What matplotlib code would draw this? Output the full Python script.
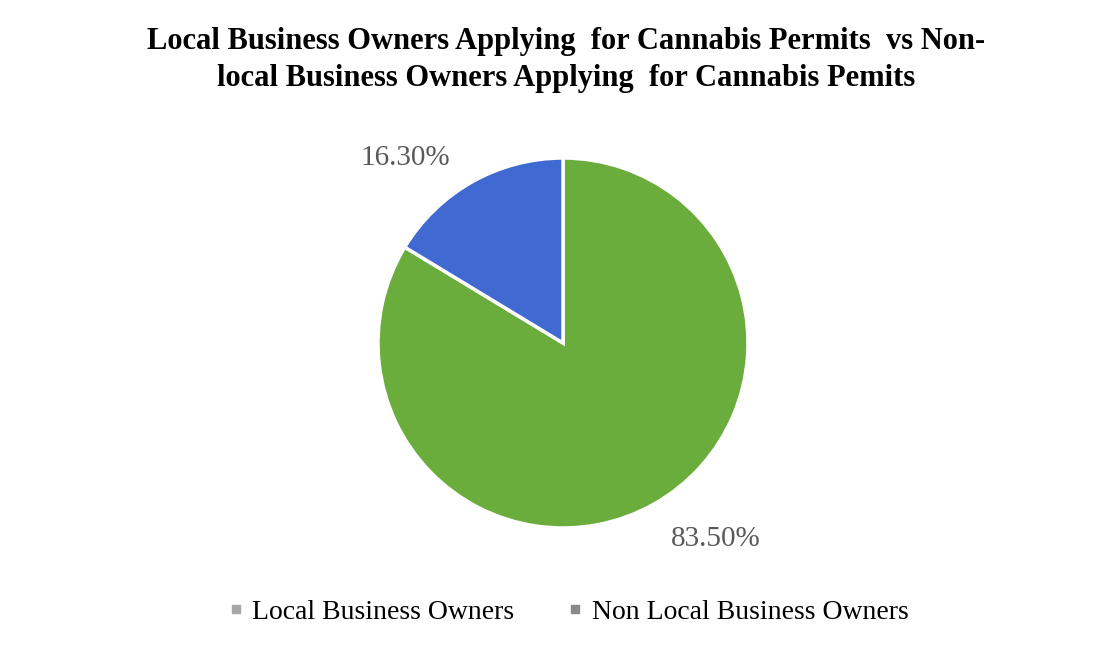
import numpy as np
import matplotlib.pyplot as plt
from matplotlib.lines import Line2D

categories = ['Local Business Owners', 'Non Local Business Owners']
shares = [83.5, 16.3]
colors = ['#6aad3d', '#4169d2']

title = ('Local Business Owners Applying  for Cannabis Permits  vs Non-\n'
         'local Business Owners Applying  for Cannabis Pemits')

W, H = 1107, 646
fig = plt.figure(figsize=(W / 100, H / 100), dpi=100)
fig.patch.set_facecolor('white')

# pie centred at (563, 343) px, radius 185 px
cx, cy, r = 563, 343, 185
ax = fig.add_axes([(cx - r) / W, (H - cy - r) / H, 2 * r / W, 2 * r / H])
ax.pie(shares, colors=colors, startangle=90, counterclock=False,
       wedgeprops=dict(edgecolor='white', linewidth=2.5))
ax.set_xlim(-1, 1)
ax.set_ylim(-1, 1)
ax.set_aspect('equal')
ax.axis('off')

# percentage labels outside the wedges
label_pos = [(716, 539), (405, 158)]
for val, (px, py) in zip(shares, label_pos):
    fig.text(px / W, 1 - py / H, f'{val:.2f}%', ha='center', va='center',
             fontsize=21, color='#595959', family='Liberation Serif')

fig.text(566 / W, 1 - 60 / H, title, ha='center', va='center',
         fontsize=22, fontweight='bold', family='Liberation Serif',
         linespacing=1.33)

handles = [Line2D([], [], marker='s', linestyle='none', markersize=6,
                  color=c) for c in ['#a6a6a6', '#8a8a8a']]
fig.legend(handles, categories, loc='center', bbox_to_anchor=(568 / W, 1 - 612 / H),
           ncol=2, frameon=False, handlelength=0.6, handletextpad=0.3,
           columnspacing=1.9, prop=dict(family='Liberation Serif', size=20))

fig.savefig('out.png', dpi=100, facecolor='white')
